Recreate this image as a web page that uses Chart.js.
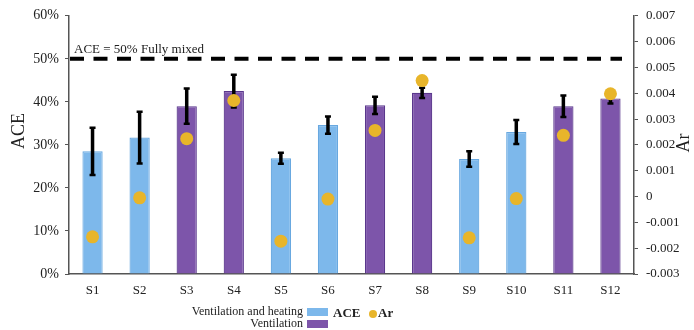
<!DOCTYPE html>
<html>
<head>
<meta charset="utf-8">
<script src="https://cdn.jsdelivr.net/npm/chart.js@4.4.1/dist/chart.umd.min.js"></script>
<style>
  html, body { margin: 0; padding: 0; background: #fff; }
  #wrap { width: 694px; height: 330px; position: relative; }
</style>
</head>
<body>
<div id="wrap"><canvas id="aceChart"></canvas></div>
<script>
// data
const categories = ['S1','S2','S3','S4','S5','S6','S7','S8','S9','S10','S11','S12'];
const aceValues = [28.5, 31.7, 39.0, 42.5, 26.9, 34.6, 39.2, 42.1, 26.7, 33.0, 39.0, 40.8];
const aceError = [5.5, 6.0, 4.1, 3.8, 1.3, 2.0, 2.0, 1.2, 1.8, 2.8, 2.5, 1.2];
const arValues = [-0.00156, -0.00005, 0.00224, 0.00372, -0.00173, -0.0001, 0.00256, 0.00449, -0.0016, -0.00008, 0.00237, 0.00398];
const groups = ['heat','heat','vent','vent','heat','heat','vent','vent','heat','heat','vent','vent'];
const aceTicks = [0, 10, 20, 30, 40, 50, 60];
const arTicks = [-0.003, -0.002, -0.001, 0, 0.001, 0.002, 0.003, 0.004, 0.005, 0.006, 0.007];
const mixedLine = 50;

const BLUE = '#7db8eb', BLUE_EDGE = '#68a8e0';
const PURPLE = '#7d55aa', PURPLE_EDGE = '#5a378c';
const GOLD = '#e8b52a';
const SERIF = '"Liberation Serif", "Times New Roman", serif';

// error bars drawn right after the bars, before the dots
const errorBars = {
  id: 'errorBars',
  afterDatasetDraw(chart, args) {
    if (args.index !== 1) return;
    const c = chart.ctx, y = chart.scales.y;
    c.save();
    c.strokeStyle = '#000';
    args.meta.data.forEach((bar, i) => {
      const top = y.getPixelForValue(aceValues[i] + aceError[i]);
      const bot = y.getPixelForValue(aceValues[i] - aceError[i]);
      c.lineWidth = 3.5;
      c.beginPath(); c.moveTo(bar.x, top); c.lineTo(bar.x, bot); c.stroke();
      c.lineWidth = 2.5;
      c.beginPath();
      c.moveTo(bar.x - 3, top); c.lineTo(bar.x + 3, top);
      c.moveTo(bar.x - 3, bot); c.lineTo(bar.x + 3, bot);
      c.stroke();
    });
    c.restore();
  }
};

// dashed reference line, axis titles and the bottom legend
const extras = {
  id: 'extras',
  afterDraw(chart) {
    const c = chart.ctx, y = chart.scales.y, area = chart.chartArea;
    c.save();
    const ly = y.getPixelForValue(mixedLine);
    c.strokeStyle = '#000';
    c.lineWidth = 4;
    c.setLineDash([14, 9.5]);
    c.beginPath(); c.moveTo(area.left + 1, ly); c.lineTo(622, ly); c.stroke();
    c.setLineDash([]);

    c.fillStyle = '#222';
    c.font = '13px ' + SERIF;
    c.textBaseline = 'alphabetic';
    c.textAlign = 'left';
    c.fillText('ACE = 50% Fully mixed', 74, ly - 6);

    // axis titles, both read bottom to top
    c.font = '18px ' + SERIF;
    c.textAlign = 'center';
    c.textBaseline = 'middle';
    c.save(); c.translate(19, 131); c.rotate(-Math.PI / 2); c.fillText('ACE', 0, 0); c.restore();
    c.save(); c.translate(684, 143); c.rotate(-Math.PI / 2); c.fillText('Ar', 0, 0); c.restore();

    // legend
    c.font = '12px ' + SERIF;
    c.textAlign = 'right';
    c.fillText('Ventilation and heating', 303, 312);
    c.fillText('Ventilation', 303, 324);
    c.fillStyle = BLUE; c.fillRect(307, 308, 21, 8);
    c.fillStyle = PURPLE; c.fillRect(307, 320, 21, 8);
    c.fillStyle = '#222';
    c.font = 'bold 13px ' + SERIF;
    c.textAlign = 'left';
    c.fillText('ACE', 333, 314);
    c.fillStyle = GOLD;
    c.beginPath(); c.arc(373, 314, 4, 0, Math.PI * 2); c.fill();
    c.fillStyle = '#222';
    c.fillText('Ar', 378, 314);
    c.restore();
  }
};

new Chart(document.getElementById('aceChart'), {
  data: {
    labels: categories,
    datasets: [
      {
        type: 'line',
        label: 'Ar',
        data: arValues,
        yAxisID: 'y1',
        showLine: false,
        pointRadius: 6.5,
        pointHoverRadius: 6.5,
        pointBackgroundColor: GOLD,
        pointBorderWidth: 0,
        order: 0
      },
      {
        type: 'bar',
        label: 'ACE',
        data: aceValues,
        yAxisID: 'y',
        backgroundColor: groups.map(g => g === 'heat' ? BLUE : PURPLE),
        borderColor: groups.map(g => g === 'heat' ? BLUE_EDGE : PURPLE_EDGE),
        borderWidth: 1.2,
        categoryPercentage: 1,
        barPercentage: 0.43,
        order: 1
      }
    ]
  },
  options: {
    responsive: true,
    maintainAspectRatio: false,
    animation: false,
    layout: { padding: { top: 15, left: 0, right: 0, bottom: 0 } },
    plugins: { legend: { display: false }, tooltip: { enabled: false } },
    scales: {
      x: {
        grid: { display: true, drawOnChartArea: false, drawTicks: false },
        border: { color: '#555', width: 1.5 },
        ticks: { color: '#222', font: { family: SERIF, size: 13 }, padding: 9 },
        afterFit(s) { s.height = 56; }
      },
      y: {
        position: 'left',
        min: 0, max: 60,
        afterBuildTicks(s) { s.ticks = aceTicks.map(v => ({ value: v })); },
        grid: { drawOnChartArea: false, tickLength: 4, color: '#555' },
        border: { color: '#555', width: 1.5 },
        ticks: { color: '#222', font: { family: SERIF, size: 14 }, padding: 6,
                 callback: v => v + '%' },
        afterFit(s) { s.width = 69; }
      },
      y1: {
        position: 'right',
        min: -0.003, max: 0.007,
        afterBuildTicks(s) { s.ticks = arTicks.map(v => ({ value: v })); },
        grid: { drawOnChartArea: false, tickLength: 4, color: '#555' },
        border: { color: '#555', width: 1.5 },
        ticks: { color: '#222', font: { family: SERIF, size: 13 }, padding: 8,
                 callback: v => String(Number(v.toFixed(3))) },
        afterFit(s) { s.width = 60; }
      }
    }
  },
  plugins: [errorBars, extras]
});
</script>
</body>
</html>
